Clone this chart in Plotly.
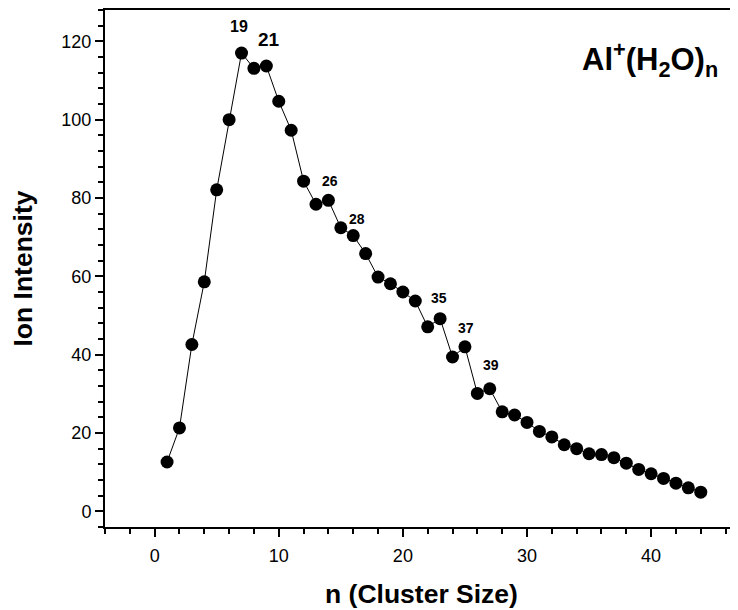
import plotly.graph_objects as go

n_values = list(range(1, 45))
intensity = [12.6, 21.3, 42.6, 58.6, 82.1, 100.0, 117.0, 113.1, 113.7, 104.7,
             97.3, 84.3, 78.4, 79.4, 72.4, 70.4, 65.8, 59.8, 58.1, 56.0,
             53.7, 47.1, 49.2, 39.4, 42.0, 30.1, 31.3, 25.4, 24.6, 22.7,
             20.4, 19.0, 17.0, 16.0, 14.7, 14.5, 13.7, 12.3, 10.7, 9.6,
             8.4, 7.2, 6.0, 4.9]

label_texts = ["19", "21", "26", "28", "35", "37", "39"]
label_x = [6.8, 9.2, 14.1, 16.3, 22.9, 25.1, 27.1]
label_y = [123.8, 120.4, 84.3, 74.6, 54.5, 46.9, 37.3]
label_sizes = [16, 19, 14, 14, 14, 14, 14]

x_ticks = [0, 10, 20, 30, 40]
y_ticks = [0, 20, 40, 60, 80, 100, 120]

FONT = "Arial, 'Liberation Sans', sans-serif"

fig = go.Figure()
fig.add_trace(go.Scatter(
    x=n_values, y=intensity, mode="lines+markers",
    line=dict(color="black", width=1),
    marker=dict(color="black", size=13),
    showlegend=False,
))

for t, x, y, s in zip(label_texts, label_x, label_y, label_sizes):
    fig.add_annotation(x=x, y=y, text=f"<b>{t}</b>", showarrow=False,
                       font=dict(family=FONT, size=s, color="black"),
                       xanchor="center", yanchor="middle")

fig.add_annotation(xref="paper", yref="paper", x=0.972, y=0.905,
                   text="<b>Al<sup>+</sup>(H<sub>2</sub>O)<sub>n</sub></b>",
                   showarrow=False, xanchor="right", yanchor="middle",
                   font=dict(family=FONT, size=31, color="black"))

# page body has an 8px default margin, so the figure is 8px smaller
fig.update_layout(
    width=730, height=602,
    margin=dict(l=97, r=0, t=2, b=83),
    plot_bgcolor="white", paper_bgcolor="white",
    font=dict(family=FONT, color="black"),
)

fig.update_xaxes(
    range=[-4, 47], tickvals=x_ticks, ticks="outside", ticklen=8, tickwidth=1.5,
    tickcolor="black", showline=True, linecolor="black", linewidth=2,
    mirror=True, showgrid=False, zeroline=False,
    tickfont=dict(size=18, family=FONT), ticklabelstandoff=3,
    minor=dict(ticks="outside", dtick=2, tick0=0, ticklen=5, tickwidth=1.5, tickcolor="black", showgrid=False),
    title=dict(text="<b>n (Cluster Size)</b>", font=dict(size=26.5, family=FONT), standoff=20),
)
fig.update_yaxes(
    range=[-4, 128], tickvals=y_ticks, ticks="outside", ticklen=8, tickwidth=1.5,
    tickcolor="black", showline=True, linecolor="black", linewidth=2,
    mirror=False, showgrid=False, zeroline=False,
    tickfont=dict(size=18, family=FONT),
    minor=dict(ticks="outside", dtick=4, tick0=0, ticklen=5, tickwidth=1.5, tickcolor="black", showgrid=False),
    title=dict(text="<b>Ion Intensity</b>", font=dict(size=26.5, family=FONT), standoff=24),
)

fig.write_html("out.html")
